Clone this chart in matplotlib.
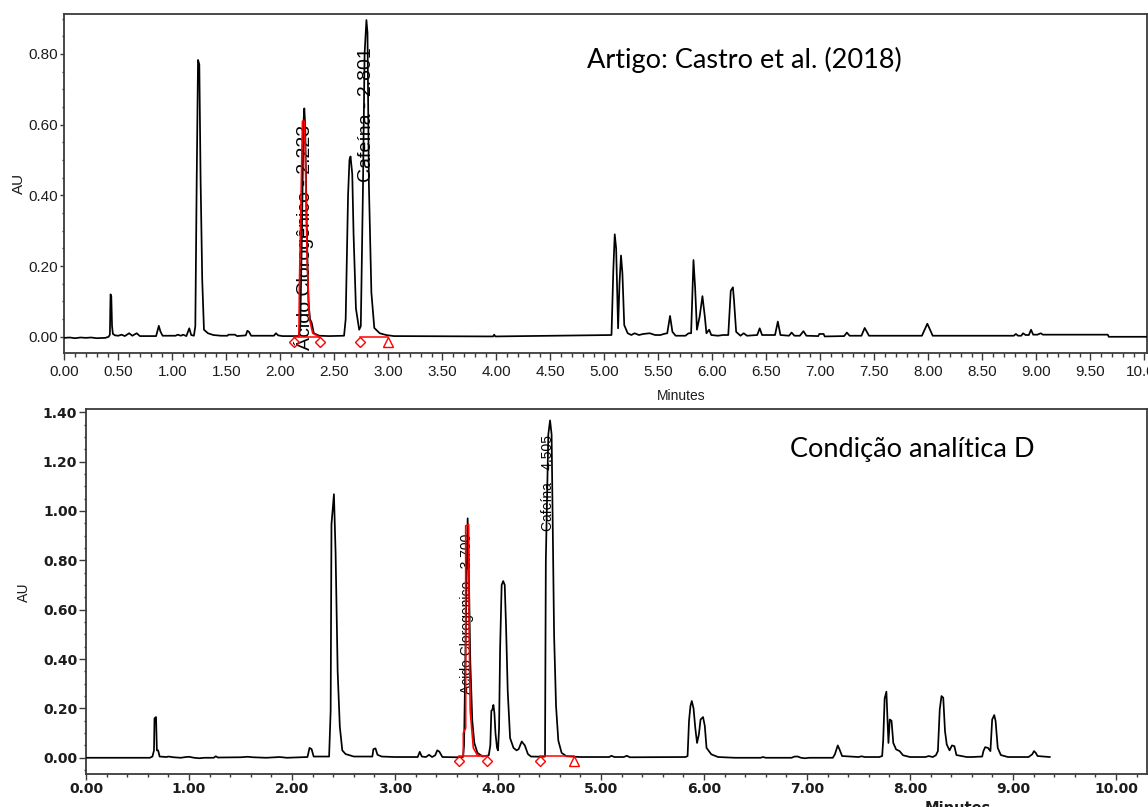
import matplotlib
matplotlib.use('Agg')
import matplotlib.pyplot as plt
from matplotlib.ticker import MultipleLocator, FormatStrFormatter

# ---------------- data ----------------
# Top chromatogram: Castro et al. (2018)
top_time = [0.00, 0.05, 0.10, 0.15, 0.20, 0.25, 0.30, 0.38, 0.41, 0.422, 0.428, 0.435, 0.442, 0.450,
            0.47, 0.50, 0.53, 0.56, 0.60, 0.63, 0.67, 0.70, 0.85, 0.875, 0.89, 0.91, 1.03, 1.05, 1.08,
            1.10, 1.13, 1.157, 1.175, 1.20, 1.213, 1.226, 1.238, 1.250, 1.262, 1.277, 1.293, 1.33,
            1.38, 1.45, 1.51, 1.52, 1.58, 1.60, 1.68, 1.695, 1.71, 1.73, 1.94, 1.96, 1.98, 2.02, 2.17,
            2.185, 2.20, 2.215, 2.222, 2.23, 2.245, 2.26, 2.275, 2.29, 2.31, 2.36, 2.45, 2.59, 2.605,
            2.627, 2.640, 2.650, 2.666, 2.678, 2.70, 2.73, 2.745, 2.765, 2.780, 2.797, 2.807, 2.82,
            2.843, 2.87, 2.92, 2.98, 3.05, 3.97, 3.98, 3.99, 5.066, 5.083, 5.096, 5.109, 5.127, 5.14,
            5.154, 5.167, 5.184, 5.216, 5.25, 5.28, 5.32, 5.36, 5.42, 5.47, 5.52, 5.55, 5.582, 5.608,
            5.63, 5.66, 5.75, 5.78, 5.803, 5.825, 5.84, 5.857, 5.882, 5.908, 5.93, 5.945, 5.97, 5.99,
            6.05, 6.10, 6.147, 6.17, 6.19, 6.20, 6.22, 6.26, 6.29, 6.32, 6.415, 6.438, 6.46, 6.58,
            6.606, 6.63, 6.71, 6.733, 6.76, 6.81, 6.843, 6.87, 6.98, 6.99, 7.03, 7.04, 7.22, 7.245,
            7.27, 7.38, 7.41, 7.45, 7.94, 7.99, 8.04, 8.79, 8.81, 8.83, 8.86, 8.876, 8.90, 8.93, 8.95,
            8.97, 9.01, 9.04, 9.06, 9.66, 9.67, 10.02]
top_au = [-0.003, -0.002, -0.004, -0.002, -0.003, -0.002, -0.004, -0.003, 0.000, 0.006, 0.120, 0.115,
          0.030, 0.008, 0.004, 0.003, 0.006, 0.002, 0.010, 0.003, 0.010, 0.002, 0.002, 0.031, 0.015,
          0.003, 0.003, 0.006, 0.003, 0.006, 0.002, 0.024, 0.005, 0.003, 0.030, 0.450, 0.783, 0.770,
          0.440, 0.160, 0.020, 0.010, 0.005, 0.003, 0.003, 0.006, 0.006, 0.002, 0.004, 0.017, 0.014,
          0.003, 0.003, 0.010, 0.004, 0.002, 0.002, 0.030, 0.300, 0.610, 0.646, 0.600, 0.300, 0.100,
          0.050, 0.040, 0.010, 0.003, 0.002, 0.003, 0.050, 0.400, 0.500, 0.510, 0.460, 0.290, 0.080,
          0.020, 0.030, 0.420, 0.800, 0.896, 0.860, 0.430, 0.125, 0.025, 0.010, 0.005, 0.002, 0.001,
          0.006, 0.001, 0.005, 0.190, 0.290, 0.250, 0.024, 0.150, 0.230, 0.180, 0.033, 0.010, 0.005,
          0.010, 0.005, 0.008, 0.010, 0.005, 0.005, 0.008, 0.010, 0.059, 0.014, 0.003, 0.003, 0.010,
          0.010, 0.217, 0.140, 0.020, 0.057, 0.115, 0.057, 0.010, 0.020, 0.005, 0.003, 0.005, 0.005,
          0.130, 0.140, 0.104, 0.014, 0.003, 0.010, 0.003, 0.005, 0.024, 0.005, 0.005, 0.043, 0.005,
          0.003, 0.012, 0.003, 0.003, 0.016, 0.003, 0.002, 0.008, 0.008, 0.001, 0.002, 0.012, 0.003,
          0.003, 0.025, 0.003, 0.003, 0.037, 0.003, 0.003, 0.008, 0.003, 0.003, 0.010, 0.005, 0.005,
          0.020, 0.006, 0.006, 0.010, 0.006, 0.006, 0.000, 0.000]
# integrated (red) part of the chlorogenic acid peak, top
top_red_time = [2.172, 2.177, 2.205, 2.225, 2.25, 2.27, 2.30, 2.36]
top_red_au = [0.000, 0.150, 0.610, 0.610, 0.200, 0.050, 0.010, 0.000]
top_peak_start = [2.123, 2.74]
top_peak_end = [2.37, 3.00]
top_end_marker = ['D', '^']
top_names = ['Ácido Clorogênico - 2.223', 'Cafeína - 2.801']
top_name_x = [2.216, 2.796]
top_name_top = [0.599, 0.82]

# Bottom chromatogram: condição analítica D
bot_time = [0.00, 0.62, 0.645, 0.66, 0.665, 0.680, 0.688, 0.70, 0.715, 0.78, 0.80, 0.85, 0.92, 0.97,
            1.00, 1.05, 1.10, 1.15, 1.24, 1.26, 1.28, 1.50, 1.57, 1.62, 1.75, 1.88, 1.95, 2.10, 2.15,
            2.17, 2.19, 2.21, 2.36, 2.375, 2.383, 2.407, 2.423, 2.443, 2.464, 2.488, 2.52, 2.60, 2.78,
            2.79, 2.81, 2.83, 2.87, 3.00, 3.22, 3.24, 3.26, 3.30, 3.33, 3.36, 3.39, 3.41, 3.43, 3.46,
            3.60, 3.66, 3.67, 3.69, 3.705, 3.715, 3.73, 3.75, 3.77, 3.80, 3.85, 3.91, 3.925, 3.935,
            3.945, 3.955, 3.965, 3.975, 3.99, 4.00, 4.01, 4.02, 4.035, 4.05, 4.065, 4.078, 4.094,
            4.117, 4.15, 4.18, 4.20, 4.23, 4.26, 4.29, 4.32, 4.44, 4.456, 4.464, 4.488, 4.505, 4.52,
            4.544, 4.563, 4.585, 4.617, 4.665, 4.80, 5.05, 5.08, 5.10, 5.13, 5.22, 5.25, 5.28, 5.82,
            5.84, 5.854, 5.868, 5.881, 5.898, 5.915, 5.932, 5.95, 5.966, 5.99, 6.007, 6.024, 6.07,
            6.136, 6.30, 6.55, 6.57, 6.60, 6.85, 6.88, 6.91, 6.94, 6.98, 7.02, 7.25, 7.27, 7.298,
            7.315, 7.34, 7.50, 7.53, 7.56, 7.70, 7.729, 7.739, 7.753, 7.77, 7.78, 7.79, 7.803, 7.82,
            7.837, 7.864, 7.898, 7.932, 8.00, 8.15, 8.18, 8.22, 8.25, 8.27, 8.288, 8.305, 8.322,
            8.339, 8.356, 8.383, 8.407, 8.43, 8.45, 8.55, 8.60, 8.70, 8.712, 8.729, 8.756, 8.78,
            8.797, 8.817, 8.83, 8.851, 8.881, 8.95, 9.15, 9.186, 9.203, 9.22, 9.237, 9.356]
bot_au = [0.000, 0.000, 0.005, 0.030, 0.160, 0.165, 0.030, 0.030, 0.005, 0.003, 0.005, 0.002, 0.000,
          0.003, 0.004, 0.000, -0.002, 0.000, 0.000, 0.006, 0.001, 0.002, 0.004, 0.002, 0.000, 0.003,
          0.000, 0.002, 0.003, 0.040, 0.035, 0.005, 0.005, 0.190, 0.946, 1.068, 0.830, 0.350, 0.126,
          0.030, 0.015, 0.005, 0.005, 0.035, 0.038, 0.012, 0.005, 0.003, 0.003, 0.024, 0.005, 0.003,
          0.012, 0.003, 0.010, 0.030, 0.025, 0.003, 0.002, 0.003, 0.050, 0.600, 0.970, 0.800, 0.400,
          0.150, 0.060, 0.020, 0.005, 0.010, 0.050, 0.190, 0.195, 0.214, 0.180, 0.100, 0.040, 0.030,
          0.120, 0.440, 0.700, 0.716, 0.700, 0.530, 0.270, 0.080, 0.040, 0.030, 0.035, 0.066, 0.050,
          0.015, 0.005, 0.004, 0.005, 0.800, 1.310, 1.367, 1.310, 0.500, 0.210, 0.070, 0.020, 0.006,
          0.003, 0.003, 0.003, 0.008, 0.003, 0.003, 0.008, 0.002, 0.003, 0.007, 0.150, 0.210, 0.230,
          0.200, 0.120, 0.060, 0.095, 0.155, 0.165, 0.130, 0.040, 0.014, 0.003, 0.000, 0.000, 0.003,
          0.000, 0.000, 0.005, 0.005, 0.000, -0.002, 0.000, 0.000, 0.014, 0.050, 0.034, 0.007, 0.003,
          0.006, 0.003, 0.003, 0.007, 0.070, 0.240, 0.268, 0.160, 0.060, 0.155, 0.150, 0.060, 0.034,
          0.027, 0.010, 0.003, 0.003, 0.007, 0.003, 0.010, 0.027, 0.196, 0.250, 0.243, 0.108, 0.054,
          0.030, 0.050, 0.047, 0.011, 0.003, 0.003, 0.005, 0.027, 0.043, 0.040, 0.027, 0.155, 0.173,
          0.149, 0.040, 0.011, 0.003, 0.003, 0.014, 0.027, 0.020, 0.007, 0.003]
bot_red_time = [3.663, 3.663, 3.686, 3.686, 3.715, 3.72, 3.73, 3.76, 3.80, 3.89]
bot_red_au = [0.007, 0.100, 0.120, 0.940, 0.945, 0.500, 0.190, 0.040, 0.010, 0.007]
bot_peak_start = [3.62, 4.408]
bot_peak_end = [3.89, 4.74]
bot_end_marker = ['D', '^']
bot_names = ['Acido Clorogenico - 3.700', 'Cafeína - 4.505']
bot_name_x = [3.695, 4.488]
bot_name_top = [0.91, 1.308]

# ---------------- figure ----------------
W, H = 1148, 807
fig = plt.figure(figsize=(W / 100, H / 100), dpi=100)
fig.patch.set_facecolor('white')

ARIAL = ['Liberation Sans', 'DejaVu Sans']
WIDE = ['DejaVu Sans']
CALLOUT = ['Lato', 'DejaVu Sans']
SPINE = '#3a3a3a'
TXT = '#1c1c1c'


def px_axes(left, top, right, bottom):
    return fig.add_axes([left / W, 1 - bottom / H, (right - left) / W, (bottom - top) / H])


def style_axes(ax, spine_lw=1.3):
    for s in ax.spines.values():
        s.set_color(SPINE)
        s.set_linewidth(spine_lw)
    ax.set_facecolor('white')


def draw_integration(ax, starts, ends, end_markers, y_mark, y_base):
    for s, e, m in zip(starts, ends, end_markers):
        ax.plot([s, e], [y_base, y_base], color='red', lw=1.1, zorder=4, clip_on=False)
        ax.plot([s], [y_mark], marker='D', ms=5, mfc='none', mec='red', mew=1.0, zorder=5,
                linestyle='none', clip_on=False)
        ax.plot([e], [y_mark], marker=m, ms=6.5 if m == '^' else 5, mfc='none', mec='red',
                mew=1.0, zorder=5, linestyle='none', clip_on=False)


# ---- top panel ----
ax1 = px_axes(64.3, 14.0, 1146.6, 352.7)
style_axes(ax1)
ax1.plot(top_time, top_au, color='black', lw=1.25, zorder=3)
ax1.plot(top_red_time, top_red_au, color='red', lw=1.2, zorder=4)
draw_integration(ax1, top_peak_start, top_peak_end, top_end_marker, -0.016, 0.0)
for name, x, yt in zip(top_names, top_name_x, top_name_top):
    ax1.text(x, yt, name, rotation=90, ha='center', va='top', fontsize=14, family=ARIAL,
             color='black', zorder=2, clip_on=True)
ax1.set_xlim(0, 10.02)
ax1.set_ylim(-0.045, 0.913)
ax1.xaxis.set_major_locator(MultipleLocator(0.5))
ax1.xaxis.set_minor_locator(MultipleLocator(0.1))
ax1.yaxis.set_major_locator(MultipleLocator(0.2))
ax1.yaxis.set_minor_locator(MultipleLocator(0.05))
ax1.xaxis.set_major_formatter(FormatStrFormatter('%.2f'))
ax1.yaxis.set_major_formatter(FormatStrFormatter('%.2f'))
ax1.tick_params(axis='x', which='major', direction='out', length=5, width=1, color=SPINE, pad=4)
ax1.tick_params(axis='x', which='minor', direction='out', length=3.2, width=1, color=SPINE)
ax1.tick_params(axis='y', which='major', direction='out', length=3.2, width=1, color=SPINE, pad=1)
ax1.tick_params(axis='y', which='minor', direction='out', length=1.8, width=1, color=SPINE)
for lab in ax1.get_xticklabels() + ax1.get_yticklabels():
    lab.set_family(ARIAL)
    lab.set_fontsize(11)
    lab.set_color(TXT)
ax1.set_xlabel('Minutes', family=ARIAL, fontsize=10, color=TXT)
ax1.xaxis.set_label_coords(0.570, -0.108)
ax1.set_ylabel('AU', family=ARIAL, fontsize=11, color=TXT)
ax1.yaxis.set_label_coords(-0.035, 0.50)
ax1.text(0.483, 0.864, 'Artigo: Castro et al. (2018)', transform=ax1.transAxes, ha='left',
         va='center', fontsize=19.5, family=CALLOUT, color='black')

# ---- bottom panel ----
ax2 = px_axes(86.0, 409.3, 1147.0, 774.3)
style_axes(ax2)
ax2.plot(bot_time, bot_au, color='black', lw=1.25, zorder=3)
ax2.plot(bot_red_time, bot_red_au, color='red', lw=1.2, zorder=4)
draw_integration(ax2, bot_peak_start, bot_peak_end, bot_end_marker, -0.012, 0.007)
for name, x, yt in zip(bot_names, bot_name_x, bot_name_top):
    ax2.text(x, yt, name, rotation=90, ha='center', va='top', fontsize=10, family=ARIAL,
             color='black', zorder=2, clip_on=True)
ax2.set_xlim(0, 10.3)
ax2.set_ylim(-0.067, 1.412)
ax2.xaxis.set_major_locator(MultipleLocator(1.0))
ax2.xaxis.set_minor_locator(MultipleLocator(0.2))
ax2.yaxis.set_major_locator(MultipleLocator(0.2))
ax2.yaxis.set_minor_locator(MultipleLocator(0.05))
ax2.xaxis.set_major_formatter(FormatStrFormatter('%.2f'))
ax2.yaxis.set_major_formatter(FormatStrFormatter('%.2f'))
ax2.tick_params(axis='x', which='major', direction='out', length=4.2, width=1, color=SPINE, pad=1)
ax2.tick_params(axis='x', which='minor', direction='out', length=2.2, width=1, color=SPINE)
ax2.tick_params(axis='y', which='major', direction='out', length=4.8, width=1, color=SPINE, pad=1.5)
ax2.tick_params(axis='y', which='minor', direction='out', length=1.7, width=1, color=SPINE)
for lab in ax2.get_xticklabels() + ax2.get_yticklabels():
    lab.set_family(WIDE)
    lab.set_fontweight('bold')
    lab.set_fontsize(10)
    lab.set_color(TXT)
ax2.set_xlabel('Minutes', family=WIDE, fontweight='bold', fontsize=10.5, color=TXT)
ax2.xaxis.set_label_coords(0.822, -0.073)
ax2.set_ylabel('AU', family=WIDE, fontsize=10, color=TXT)
ax2.yaxis.set_label_coords(-0.052, 0.50)
ax2.text(0.6635, 0.889, 'Condição analítica D', transform=ax2.transAxes, ha='left',
         va='center', fontsize=19.5, family=CALLOUT, color='black')

fig.savefig('out.png', dpi=100, facecolor='white')
